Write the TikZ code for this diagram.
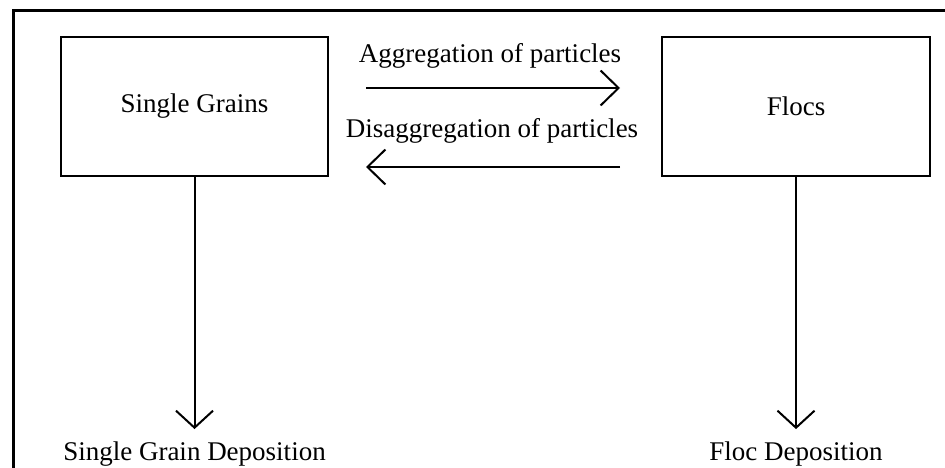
\documentclass[tikz,border=0pt]{standalone}
\usepackage{fontspec}
\setmainfont{Liberation Serif}
\usetikzlibrary{arrows.meta}
\begin{document}
\begin{tikzpicture}[x=1pt,y=-1pt,
  txt/.style={font=\fontsize{27}{32}\selectfont, inner sep=0pt},
  box/.style={draw, line width=2pt, minimum width=267pt, minimum height=139pt, font=\fontsize{27}{32}\selectfont},
  harr/.style={line width=2pt, -{Straight Barb[length=18pt,width=35pt,line width=2pt]}},
  varr/.style={line width=2pt, -{Straight Barb[length=17pt,width=37pt,line width=2pt]}}]
\useasboundingbox (0,0) rectangle (945,468);
% outer frame (top and left edges)
\draw[line width=3pt] (945,11) -- (13,11) -- (13,468);
% boxes
\node[box] (sg) at (194.5,106.5) {Single Grains};
\node[box, minimum width=268pt] (fl) at (796,106.5) {Flocs};
% horizontal arrows
\node[txt, anchor=base] (agg) at (490,63) {Aggregation of particles};
\node[txt, anchor=base] (dis) at (492,138) {Disaggregation of particles};
\draw[harr, shorten <=37pt, shorten >=41pt] ([yshift=18.5pt]sg.east) -- ([yshift=18.5pt]fl.west);
\draw[harr, shorten <=41pt, shorten >=37pt] ([yshift=-60.5pt]fl.west) -- ([yshift=-60.5pt]sg.east);
% deposition labels
\node[txt, anchor=base] (sgd) at (194.5,460) {Single Grain Deposition};
\node[txt, anchor=base] (fld) at (796,460) {Floc Deposition};
\draw[varr, shorten >=12pt] (sg.south) -- (sg.south |- sgd.north);
\draw[varr, shorten >=12pt] (fl.south) -- (fl.south |- fld.north);
\end{tikzpicture}
\end{document}
